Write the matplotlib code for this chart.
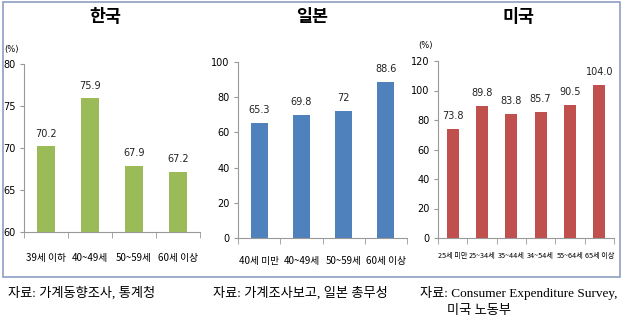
import matplotlib
matplotlib.use('Agg')
import matplotlib.pyplot as plt
from matplotlib.patches import Rectangle

plt.rcParams['font.family'] = ['Noto Sans CJK KR', 'DejaVu Sans']

# 데이터
kor_labels = ['39세 이하', '40~49세', '50~59세', '60세 이상']
kor_values = [70.2, 75.9, 67.9, 67.2]
kor_text = ['70.2', '75.9', '67.9', '67.2']

jpn_labels = ['40세 미만', '40~49세', '50~59세', '60세 이상']
jpn_values = [65.3, 69.8, 72, 88.6]
jpn_text = ['65.3', '69.8', '72', '88.6']

usa_labels = ['25세 미만', '25~34세', '35~44세', '34~54세', '55~64세', '65세 이상']
usa_values = [73.8, 89.8, 83.8, 85.7, 90.5, 104.0]
usa_text = ['73.8', '89.8', '83.8', '85.7', '90.5', '104.0']

W, H = 625, 325
fig = plt.figure(figsize=(W / 100, H / 100), dpi=100)
fig.patch.set_facecolor('white')

# 바깥 테두리
fig.add_artist(Rectangle((3 / W, 1 - 277 / H), 617 / W, 275 / H,
                         transform=fig.transFigure, fill=False,
                         edgecolor='#8c9ec4', linewidth=1.2))

narrow = ['Liberation Sans Narrow', 'DejaVu Sans']


def draw_panel(rect, labels, values, texts, color, ylim, yticks, lab_size, pad, pct):
    ax = fig.add_axes(rect)
    x = range(len(values))
    ax.bar(x, values, width=0.4, color=color, zorder=2)
    span = ylim[1] - ylim[0]
    for i, (v, t) in enumerate(zip(values, texts)):
        ax.text(i, v + span * 0.045, t, ha='center', va='bottom',
                fontsize=7, family=narrow, color='#222222')
    ax.set_xlim(-0.5, len(values) - 0.5)
    ax.set_ylim(*ylim)
    ax.set_yticks(yticks)
    ax.set_yticklabels([str(t) for t in yticks], fontsize=7, family=narrow)
    ax.set_xticks(list(x))
    ax.set_xticklabels(labels, fontsize=lab_size)
    ax.set_xticks([i - 0.5 for i in range(len(values) + 1)], minor=True)
    ax.tick_params(axis='x', which='major', length=0, pad=pad)
    ax.tick_params(axis='x', which='minor', length=4, color='#999999')
    ax.tick_params(axis='y', length=3, color='#999999', pad=3)
    for s in ['top', 'right']:
        ax.spines[s].set_visible(False)
    for s in ['left', 'bottom']:
        ax.spines[s].set_color('#999999')
        ax.spines[s].set_linewidth(0.8)
    if pct:
        ax.text(-0.03, 1.06, '(%)', transform=ax.transAxes, fontsize=6,
                ha='right', va='bottom', family=narrow)
    return ax


draw_panel([24 / W, 1 - 232 / H, 176 / W, 168 / H], kor_labels, kor_values, kor_text,
           '#9bbb59', (60, 80), [60, 65, 70, 75, 80], 7, 15, True)
draw_panel([238 / W, 1 - 238 / H, 169 / W, 176 / H], jpn_labels, jpn_values, jpn_text,
           '#4f81bd', (0, 100), [0, 20, 40, 60, 80, 100], 7, 13, False)
draw_panel([438 / W, 1 - 238 / H, 176 / W, 177 / H], usa_labels, usa_values, usa_text,
           '#c0504d', (0, 120), [0, 20, 40, 60, 80, 100, 120], 5.2, 10, True)

# 제목
for xp, t in [(105, '한국'), (312, '일본'), (518, '미국')]:
    fig.text(xp / W, 1 - 17 / H, t, ha='center', va='center',
             fontsize=12.5, fontweight='bold')

# 출처
src_font = ['Liberation Serif', 'Noto Sans CJK KR']
fig.text(8 / W, 1 - 293 / H, '자료: 가계동향조사, 통계청', fontsize=9.5,
         va='center', family=src_font)
fig.text(213 / W, 1 - 293 / H, '자료: 가계조사보고, 일본 총무성', fontsize=9.5,
         va='center', family=src_font)
fig.text(420 / W, 1 - 293 / H, '자료: Consumer Expenditure Survey,', fontsize=9.5,
         va='center', family=src_font)
fig.text(447 / W, 1 - 311 / H, '미국 노동부', fontsize=9.5,
         va='center', family=src_font)

fig.savefig('out.png', dpi=100)
